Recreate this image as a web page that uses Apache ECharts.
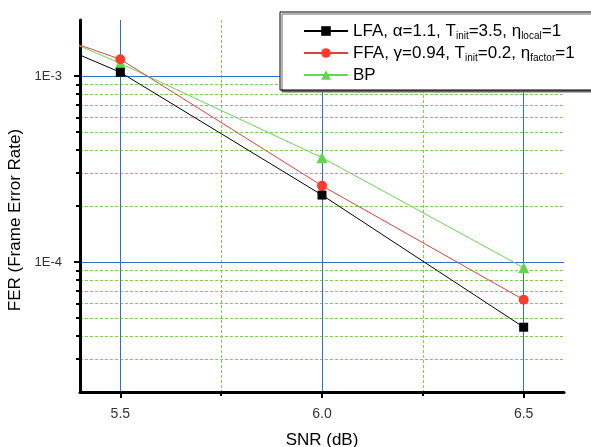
<!DOCTYPE html>
<html>
<head>
<meta charset="utf-8">
<script src="https://cdn.jsdelivr.net/npm/echarts@6/dist/echarts.min.js"></script>
<style>
html,body{margin:0;padding:0;background:#fff;}
#chart{width:591px;height:447px;}
</style>
</head>
<body>
<div id="chart"></div>
<script>
// ---- data ----
const snr = [5.0, 5.5, 6.0, 6.5];
const lfa = [3.03e-3, 1.047e-3, 2.29e-4, 4.46e-5];
const ffa = [2.95e-3, 1.23e-3, 2.57e-4, 6.27e-5];
const bp  = [3.38e-3, 1.17e-3, 3.64e-4, 9.32e-5];
const seriesNames = ['LFA', 'FFA', 'BP'];
const legendLabels = [
  'LFA, α=1.1, T{s|init}=3.5, η{s|local}=1',
  'FFA, γ=0.94, T{s|init}=0.2, η{s|factor}=1',
  'BP'
];
const xMajorTicks = [5.5, 6.0, 6.5];
const xMinorTicks = [5.75, 6.25];
const yMajorTicks = [1e-4, 1e-3];
const yMinorTicks = [3e-5, 4e-5, 5e-5, 6e-5, 7e-5, 8e-5, 9e-5,
                     2e-4, 3e-4, 4e-4, 5e-4, 6e-4, 7e-4, 8e-4, 9e-4];
const xTitle = 'SNR (dB)';
const yTitle = 'FER (Frame Error Rate)';

const FONT = '"Liberation Sans", Arial, sans-serif';
const BLUE = '#2f6fd0';
const GREEN = '#7ccf4e';

const chart = echarts.init(document.getElementById('chart'), null, {renderer: 'canvas'});

function pairs(ys) { return snr.map((x, i) => [x, ys[i]]); }

const legendMap = {};
seriesNames.forEach((n, i) => legendMap[n] = legendLabels[i]);

const option = {
  backgroundColor: '#fff',
  animation: false,
  grid: {left: 80, right: 27, top: 20, bottom: 55, containLabel: false, outerBoundsMode: 'none'},
  legend: {
    orient: 'vertical',
    left: 280,
    top: 12,
    padding: [9, 20, 5, 23],
    itemWidth: 44,
    itemHeight: 12,
    itemGap: 2,
    backgroundColor: '#fff',
    borderColor: '#000',
    borderWidth: 1,
    borderRadius: 0,
    shadowColor: '#666',
    shadowBlur: 0,
    shadowOffsetX: 2,
    shadowOffsetY: 2,
    data: seriesNames,
    formatter: name => legendMap[name],
    textStyle: {
      fontFamily: FONT, fontSize: 17, color: '#000', lineHeight: 20,
      rich: {
        s: {fontFamily: FONT, fontSize: 10, color: '#000', verticalAlign: 'bottom', lineHeight: 20}
      }
    }
  },
  xAxis: [
    {
      type: 'value', min: 5.4, max: 6.6, position: 'bottom', z: 3,
      name: xTitle, nameLocation: 'middle', nameGap: 40,
      nameTextStyle: {fontFamily: FONT, fontSize: 17, color: '#000'},
      axisLine: {show: true, lineStyle: {color: '#000', width: 3}},
      axisTick: {show: true, customValues: xMajorTicks, length: 6, lineStyle: {color: '#000', width: 2}},
      axisLabel: {show: true, customValues: xMajorTicks, margin: 15, fontFamily: FONT, fontSize: 14, color: '#333',
                  formatter: v => v.toFixed(1)},
      splitLine: {show: true, lineStyle: {color: BLUE, width: 1, type: 'solid'}}
    },
    {
      type: 'value', min: 5.4, max: 6.6, position: 'bottom', offset: 0, z: 1,
      axisLine: {show: false},
      axisTick: {show: true, customValues: xMinorTicks, length: 4, lineStyle: {color: '#000', width: 2}},
      axisLabel: {show: false},
      splitLine: {show: true, lineStyle: {color: GREEN, width: 1, type: [3, 2]}}
    }
  ],
  yAxis: [
    {
      type: 'log', logBase: 10, min: 2e-5, max: 2e-3, position: 'left', z: 3,
      name: yTitle, nameLocation: 'middle', nameGap: 46,
      nameTextStyle: {fontFamily: FONT, fontSize: 17, color: '#000', padding: [0, 28, 0, 0]},
      axisLine: {show: true, lineStyle: {color: '#000', width: 3}},
      axisTick: {show: true, customValues: yMajorTicks, length: 6, lineStyle: {color: '#000', width: 2}},
      axisLabel: {show: true, customValues: yMajorTicks, margin: 18, fontFamily: FONT, fontSize: 13, color: '#333',
                  formatter: v => v.toExponential(0).toUpperCase()},
      splitLine: {show: true, lineStyle: {color: BLUE, width: 1, type: 'solid'}}
    },
    {
      type: 'log', logBase: 10, min: 2e-5, max: 2e-3, position: 'left', offset: 0, z: 1,
      axisLine: {show: false},
      axisTick: {show: true, customValues: yMinorTicks, length: 4, lineStyle: {color: '#000', width: 2}},
      axisLabel: {show: false},
      splitLine: {show: true, lineStyle: {color: GREEN, width: 1, type: [3, 2]}}
    }
  ],
  series: [
    {
      name: 'LFA', type: 'line', xAxisIndex: 0, yAxisIndex: 0, clip: true,
      data: pairs(lfa), symbol: 'rect', symbolSize: 9,
      color: '#000', lineStyle: {color: '#000', width: 1}, itemStyle: {color: '#000'}, z: 5
    },
    {
      name: 'FFA', type: 'line', xAxisIndex: 0, yAxisIndex: 0, clip: true,
      data: pairs(ffa), symbol: 'circle', symbolSize: 10,
      color: '#ff3b30', lineStyle: {color: '#e0403a', width: 1}, itemStyle: {color: '#ff3b30'}, z: 4
    },
    {
      name: 'BP', type: 'line', xAxisIndex: 0, yAxisIndex: 0, clip: true,
      data: pairs(bp), symbol: 'triangle', symbolSize: 11,
      color: '#5ed84a', lineStyle: {color: '#6ad456', width: 1}, itemStyle: {color: '#5ed84a'}, z: 3
    }
  ]
};
chart.setOption(option);
</script>
</body>
</html>
